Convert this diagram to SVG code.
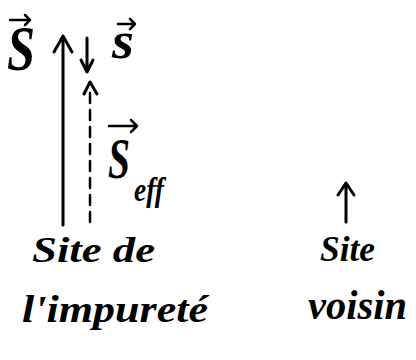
<svg xmlns="http://www.w3.org/2000/svg" width="416" height="360" viewBox="0 0 416 360">
<style>
.t{font-family:"Liberation Serif","DejaVu Serif",serif;font-style:italic;font-weight:bold;fill:#000}
.ln{stroke:#000;stroke-width:3;fill:none;stroke-linecap:round;stroke-linejoin:round}
.thin{stroke:#000;stroke-width:2.5;fill:none;stroke-linecap:round;stroke-linejoin:round}
</style>
<rect width="416" height="360" fill="#fff"/>
<g id="connectors">
  <path class="ln" d="M63 225 V36 M54 52 L63 36 L72 52"/>
  <path class="ln" d="M87 38 V72 M81 60 L87 72 L93 60"/>
  <path class="thin" d="M90 222 V86" stroke-dasharray="10 7"/>
  <path class="ln" d="M84 94 L90 82 L97 94"/>
  <path class="ln" d="M346 222 V183 M338 195 L346 183 L354 195"/>
</g>
<g id="label-S">
  <text class="t" x="7" y="70" font-size="64" textLength="28" lengthAdjust="spacingAndGlyphs">S</text>
  <path class="thin" d="M10 20 H30 M25 15 L30 20 L25 25"/>
</g>
<g id="label-s">
  <text class="t" x="112" y="58" font-size="52" textLength="22" lengthAdjust="spacingAndGlyphs">s</text>
  <path class="thin" d="M118 24 H135 M130 19 L135 24 L130 29"/>
</g>
<g id="label-Seff">
  <text class="t" x="108" y="178" font-size="58" textLength="22" lengthAdjust="spacingAndGlyphs">S</text>
  <text class="t" x="134" y="201" font-size="34" textLength="30" lengthAdjust="spacingAndGlyphs">eff</text>
  <path class="thin" d="M109 126 H137 M131 120 L137 126 L131 132"/>
</g>
<g id="site-impurete">
  <text class="t" x="32" y="262" font-size="36" textLength="123" lengthAdjust="spacingAndGlyphs">Site de</text>
  <text class="t" x="22" y="322" font-size="38" textLength="186" lengthAdjust="spacingAndGlyphs">l'impureté</text>
</g>
<g id="site-voisin">
  <text class="t" x="320" y="261" font-size="36" textLength="55" lengthAdjust="spacingAndGlyphs">Site</text>
  <text class="t" x="308" y="319" font-size="42" textLength="99" lengthAdjust="spacingAndGlyphs">voisin</text>
</g>
</svg>
